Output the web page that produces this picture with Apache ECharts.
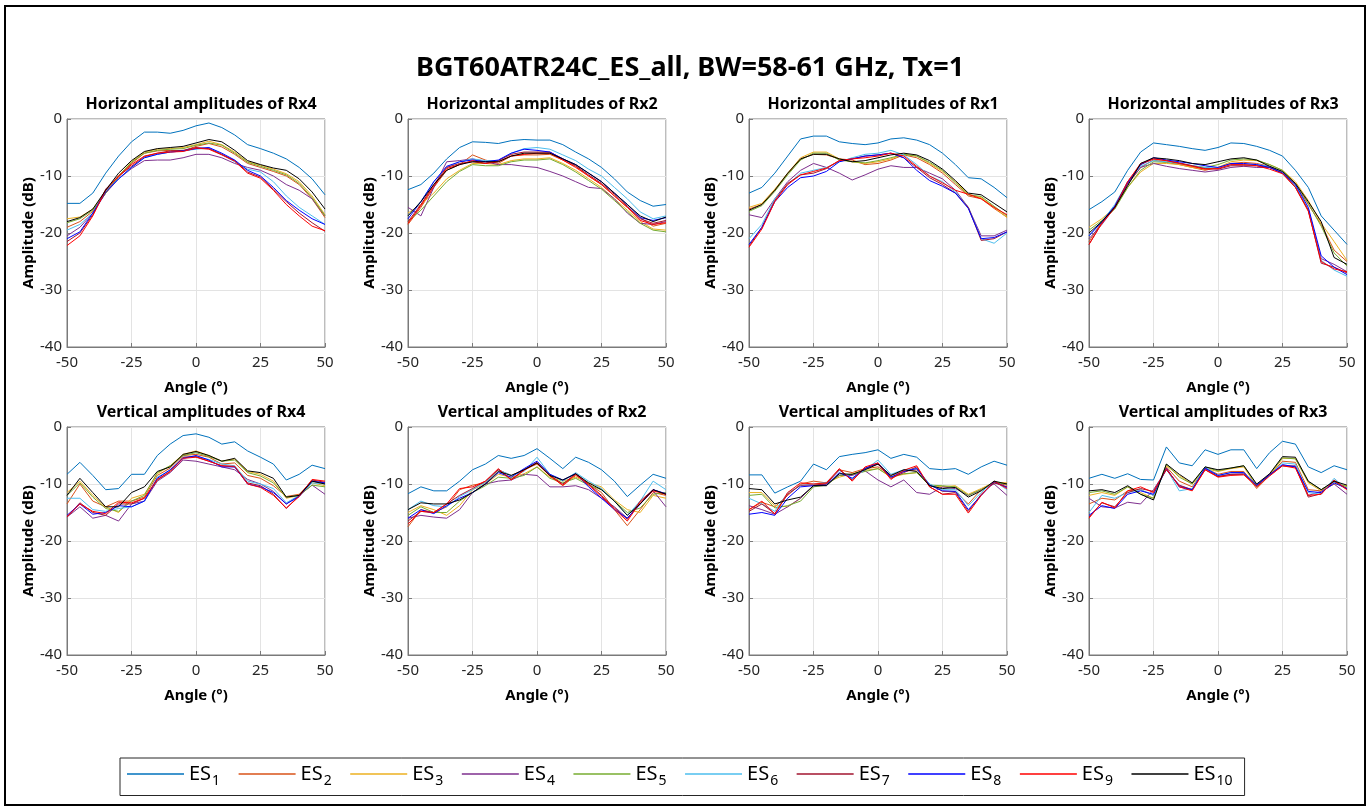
<!DOCTYPE html>
<html lang="en">
<head>
    <meta charset="utf-8">
    <title>BGT60ATR24C_ES_all</title>
    <script src="https://cdn.jsdelivr.net/npm/echarts@6/dist/echarts.min.js"></script>
    <style>
        html, body { margin: 0; padding: 0; background: #fff; }
        #chart { width: 1370px; height: 810px; }
    </style>
</head>
<body>
    <div id="chart"></div>
    <script type="text/javascript">
        // angle axis (deg)
        var angles = [-50, -45, -40, -35, -30, -25, -20, -15, -10, -5, 0, 5, 10, 15, 20, 25, 30, 35, 40, 45, 50];
        var esNames = ["ES1", "ES2", "ES3", "ES4", "ES5", "ES6", "ES7", "ES8", "ES9", "ES10"];
        var COLORS = ["#0072BD", "#D95319", "#EDB120", "#7E2F8E", "#77AC30", "#4DBEEE", "#A2142F", "#0000FF", "#FF0000", "#000000"];
        var panelTitles = [
            "Horizontal amplitudes of Rx4", "Horizontal amplitudes of Rx2", "Horizontal amplitudes of Rx1", "Horizontal amplitudes of Rx3",
            "Vertical amplitudes of Rx4", "Vertical amplitudes of Rx2", "Vertical amplitudes of Rx1", "Vertical amplitudes of Rx3"
        ];
        var xTicks = [-50, -25, 0, 25, 50];
        var yTicks = [-40, -30, -20, -10, 0];

        // amplitude (dB), one row per ES1..ES10
        var H_RX4 = [
            [-14.8, -14.8, -13, -9.5, -6.5, -4, -2.3, -2.3, -2.5, -2, -1.2, -0.7, -1.5, -2.8, -4.5, -5.2, -6, -7, -8.5, -10.5, -13.3],
            [-19, -18, -16.2, -13, -10.2, -7.8, -6, -5.6, -5.5, -5.6, -4.8, -4.3, -4.9, -6.2, -7.8, -8.5, -9.2, -10, -11.5, -14, -17.3],
            [-17.5, -17.2, -15.8, -12.8, -10, -7.5, -5.8, -5.3, -5.2, -5, -4.5, -3.9, -4.5, -5.8, -7.5, -8.1, -8.8, -9.6, -11, -13.5, -16.8],
            [-20.5, -19, -16.5, -13, -10.5, -8.7, -7.3, -7.2, -7.2, -6.8, -6.2, -6.2, -6.8, -7.8, -8.5, -9, -10, -11.5, -12.5, -14, -17],
            [-18.2, -17.5, -16, -13, -10, -7.6, -6, -5.5, -5.3, -5.2, -4.6, -4.2, -4.6, -6, -7.6, -8.3, -9, -9.8, -11.3, -13.8, -17],
            [-19.5, -18.5, -16.5, -12.5, -10.5, -8.5, -6.8, -6.2, -5.8, -5.6, -5.3, -5.1, -6.2, -7.5, -8.8, -9.3, -11, -13.5, -15.5, -17, -18.5],
            [-21.5, -20, -16.8, -12.3, -10, -8.3, -6.6, -6, -5.6, -5.5, -5, -5.2, -6.2, -7.3, -9.3, -10.2, -12.3, -14.5, -16.5, -18.2, -19.7],
            [-21, -19.8, -16.5, -12.8, -10.5, -8.5, -6.8, -6.2, -5.8, -5.6, -5.2, -5, -6, -7.2, -9, -10, -12, -14.3, -16, -17.5, -18.5],
            [-22.2, -20.5, -17, -12.5, -10, -8, -6.5, -6, -5.8, -5.7, -5.1, -5.3, -6.3, -7.4, -9.5, -10.4, -12.5, -15, -17, -18.8, -19.6],
            [-18, -17.3, -15.8, -12.5, -9.5, -7.3, -5.7, -5.2, -5, -4.8, -4.2, -3.6, -4, -5.5, -7.3, -8, -8.6, -9, -10.5, -12.8, -15.8]
        ];
        var H_RX2 = [
            [-12.4, -11.5, -9.5, -7, -5, -4, -4.1, -4.3, -3.8, -3.6, -3.7, -3.7, -4.5, -5.8, -7, -8.5, -10.5, -12.8, -14.3, -15.3, -15],
            [-18.5, -15.5, -12, -9, -8, -6.3, -7.2, -7.8, -6.5, -6.3, -6.3, -6.2, -7.2, -8.3, -10, -11.5, -13.5, -15.5, -17.3, -18.8, -18.3],
            [-16.5, -15, -13, -10.5, -9, -7.8, -7.8, -8, -7.3, -7, -7, -6.8, -7.8, -9, -10.5, -12, -14, -16, -18, -19.3, -19.5],
            [-15.5, -17, -12, -7.5, -7.3, -7, -7.5, -8, -8, -8.3, -8.5, -9.2, -10, -11, -12, -12.2, -14, -16.5, -18.3, -18.5, -18],
            [-18, -16, -13.5, -11, -9.2, -8, -8.2, -8.2, -7.5, -7.2, -7.2, -7, -8, -9.3, -10.8, -12.3, -14.3, -16.3, -18.3, -19.5, -19.8],
            [-17, -14.5, -11, -8.5, -7.5, -7, -7.3, -7.3, -6, -5.2, -5, -5.3, -6.3, -7.3, -8.8, -10, -12, -14, -16.3, -17.5, -17],
            [-18, -15, -11.5, -8.5, -7.8, -7.5, -7.8, -7.3, -6.2, -5.8, -5.8, -5.8, -7, -8.2, -9.8, -11.3, -13.2, -15.3, -17.5, -18.3, -17.8],
            [-17.5, -14.5, -11, -8.3, -7.5, -7.2, -7.5, -7.2, -6, -5.3, -5.5, -5.8, -7, -8, -9.5, -11, -13, -15, -17.3, -17.8, -17.3],
            [-18.3, -15.2, -11.8, -8.7, -8, -7.3, -7.8, -7.5, -6.5, -6.2, -6, -6, -7.2, -8.5, -10, -11.5, -13.5, -15.5, -17.8, -18.5, -18.2],
            [-17, -14.5, -11.5, -9, -8, -7.5, -7.5, -7.5, -6.5, -6, -6, -6, -7, -8, -9.5, -11, -13, -15, -17, -18, -17.2]
        ];
        var H_RX1 = [
            [-13, -12, -9.5, -6.5, -3.5, -3, -3, -4, -4.3, -4.5, -4.2, -3.5, -3.3, -3.7, -4.5, -6, -8, -10.3, -10.5, -12, -13.8],
            [-15.8, -15, -12.5, -9.6, -7, -6.2, -6.3, -7, -7.2, -8, -7.8, -7.2, -6.3, -6.8, -8, -9.5, -11.5, -13.5, -14, -15.7, -17.2],
            [-15.5, -14.8, -12.3, -9.5, -6.8, -5.8, -5.8, -7, -7.5, -7.8, -7.5, -7, -6.2, -6.5, -7.8, -9.2, -11, -13.2, -13.8, -15.5, -17.3],
            [-16.8, -17.3, -14, -11, -9, -7.8, -8.5, -9.5, -10.7, -9.8, -8.8, -8.2, -8.5, -8.5, -9.5, -10.5, -12.5, -15.5, -20.5, -20.5, -19.5],
            [-16.2, -15.2, -12.7, -9.8, -7.2, -6, -6, -7.2, -7.5, -7.7, -7.3, -6.8, -6.2, -6.5, -7.6, -9, -11.2, -13.3, -13.6, -15.3, -17],
            [-21, -18.5, -14, -11.5, -9.5, -9, -8.5, -7.5, -6.8, -6.2, -6, -5.5, -6.3, -8, -10, -11, -12.8, -15.5, -21, -21.8, -20],
            [-22.3, -19, -14.3, -11.3, -9.8, -9.5, -8.7, -7.3, -7, -6.5, -6.3, -6, -6.8, -8.5, -10.3, -11.5, -13, -15.5, -21.3, -21, -19.8],
            [-22, -19, -14.5, -12, -10.3, -10, -9.2, -7.5, -7, -6.5, -6.3, -6, -6.8, -9, -10.8, -11.8, -13, -15.7, -21, -20.8, -19.8],
            [-22.5, -19.3, -14.5, -11.5, -9.8, -9.2, -8.6, -7.3, -7, -6.8, -6.5, -6, -6.5, -8.3, -10, -11.2, -12.5, -13.2, -14, -15.5, -16.8],
            [-16, -15, -12.5, -9.5, -7, -6.2, -6.2, -7, -7.5, -7.3, -6.8, -6.3, -6, -6.3, -7.3, -8.8, -10.8, -13, -13.3, -14.8, -16.3]
        ];
        var H_RX3 = [
            [-15.9, -14.5, -12.8, -9, -5.8, -4.2, -4.5, -4.8, -5.2, -5.5, -5, -4.2, -4.3, -4.8, -5.5, -6.5, -9, -12, -17, -19.5, -22],
            [-21.5, -18, -15.5, -11.5, -8.5, -7.2, -7.6, -8, -8.5, -9, -8.5, -7.8, -7.6, -7.8, -8.3, -9.3, -11.5, -15, -18.5, -23, -25],
            [-19, -17.5, -15.5, -12, -9.3, -7.8, -7.8, -8, -8.5, -8.8, -8.5, -7.5, -7.2, -7.3, -8, -9, -11, -14.3, -18.3, -21.5, -24.8],
            [-21, -18.5, -15.5, -11.3, -8.5, -7.8, -8.3, -8.7, -9, -9.3, -9, -8.5, -8.3, -8.5, -8.5, -9.3, -11.8, -16, -24.5, -25.5, -26.8],
            [-19.5, -17.8, -15.8, -12, -9, -7.5, -7.6, -7.8, -8.2, -8.5, -8, -7.2, -7, -7.2, -8, -9, -11.3, -14.8, -18.8, -23.5, -25.8],
            [-20.5, -18, -15, -11, -8.3, -7.3, -7.5, -7.8, -8.2, -8.5, -8.6, -8, -8, -8, -8.3, -9.3, -11.8, -15.8, -24.8, -26.5, -27.6],
            [-22, -18.2, -15.3, -11, -8, -7, -7.3, -7.7, -8.2, -8.7, -8.8, -8.2, -8.2, -8.2, -8.5, -9.5, -12, -16, -25.3, -26, -27],
            [-20.5, -18, -15.3, -11.2, -8, -6.8, -7.2, -7.5, -7.8, -8.2, -8.5, -7.8, -7.8, -8, -8.5, -9.5, -11.5, -15.5, -24, -26, -27.3],
            [-22, -18.3, -15.6, -11, -7.8, -7, -7.3, -7.8, -8.3, -8.8, -8.7, -8, -8, -8.2, -8.8, -9.6, -12, -16.2, -25, -26.3, -26.8],
            [-20, -18, -15.5, -11.7, -7.8, -6.8, -7, -7.3, -7.8, -8, -7.5, -7, -6.8, -7.2, -8.3, -9.2, -11.3, -14.5, -18, -24.3, -25.5]
        ];
        var V_RX4 = [
            [-8.3, -6.2, -8.5, -11, -10.8, -8.3, -8.3, -5, -3, -1.5, -1.2, -1.8, -3, -2.6, -4.2, -5.3, -6.5, -9.3, -8.3, -6.7, -7.3],
            [-13.5, -10, -13, -14, -13, -13, -12.3, -8.5, -7.2, -5, -4.8, -5.3, -6.5, -6.3, -8.5, -9, -10.3, -12.2, -11.8, -9.5, -10],
            [-11.5, -9.5, -12, -14, -15, -12.5, -11.8, -8.2, -6.8, -4.8, -4.2, -5, -6, -5.6, -7.8, -8.3, -9.5, -12.5, -12, -9.8, -10.3],
            [-15.8, -14, -16, -15.5, -16.5, -13.5, -13, -9.5, -8, -5.8, -6, -6.5, -7, -7.5, -9.2, -10, -11.3, -13.5, -12, -10.2, -11.8],
            [-12, -9.8, -12.3, -14.3, -14.8, -13, -12, -8, -6.8, -5, -4.5, -5.2, -6, -5.8, -8, -8.6, -9.8, -12.3, -12, -10.2, -10.5],
            [-12.5, -12.5, -14.5, -14.8, -14.3, -14, -13, -8.8, -7.6, -5.3, -5.2, -5.7, -6.5, -6.8, -9.5, -10, -10.8, -13.3, -12, -9.8, -10],
            [-15.8, -13.3, -15, -15.5, -13.5, -13.5, -12.5, -9.3, -7.8, -5.3, -5.2, -6, -6.8, -7, -9.8, -10.3, -11.8, -14.3, -12, -9.3, -9.7],
            [-15.5, -13.5, -15.3, -15, -13.8, -14, -13, -9, -7.5, -5.5, -5, -5.8, -7, -7, -10, -10.5, -11.5, -13.5, -12.2, -9.5, -9.8],
            [-15.7, -13.5, -14.8, -15.2, -13.2, -13.3, -12.5, -9.2, -7.8, -5.5, -5.3, -6, -6.8, -6.9, -10, -10.6, -12, -14.2, -12.2, -9.2, -9.5],
            [-12, -9, -11.5, -14, -14, -11.5, -10.5, -7.8, -7, -4.8, -4.3, -5, -6, -5.5, -7.7, -8, -9, -12.3, -12, -9.5, -10]
        ];
        var V_RX2 = [
            [-11.7, -10.5, -11.2, -11.2, -9.5, -7.5, -6.5, -5, -5.5, -5, -3.8, -5.5, -7.3, -5.3, -6.2, -7.5, -9.5, -12.2, -10.2, -8.3, -9],
            [-17.5, -14.5, -15, -14, -11, -10.2, -9.8, -7.5, -8.5, -7.5, -6.5, -8.5, -10.3, -8.5, -10, -11.5, -14.5, -17.3, -14.5, -11.5, -12],
            [-15, -13.8, -14.5, -15.5, -13.8, -11, -10, -8.3, -8.8, -8.2, -7, -8.8, -9.5, -8.8, -9.8, -10.5, -12.8, -14.5, -15, -12, -12.5],
            [-16, -15.5, -15.8, -16, -14.5, -11.5, -10, -9.5, -9.3, -8.3, -8.5, -10.5, -10.5, -10.3, -11, -12.5, -14, -16, -13.5, -11.2, -14],
            [-15.5, -14, -15, -15, -13, -11.5, -10.3, -8.8, -9, -8.5, -7, -9, -9.8, -9, -10.2, -11, -13, -15, -14.2, -11.8, -11.5],
            [-14.5, -13, -13.8, -14, -12.2, -11, -9.7, -7.5, -8.5, -7.8, -5.3, -8.3, -9.5, -8, -9.5, -10.8, -13, -15.5, -13, -9.5, -11],
            [-16.5, -14.8, -15, -13.5, -12, -10.8, -9.5, -7.5, -9.2, -7.5, -6.2, -8.5, -10, -8.2, -10, -12, -14.2, -16.2, -13, -11, -11.8],
            [-16, -14.5, -15.2, -13.8, -12.5, -11.5, -10, -8, -8.8, -7.3, -6, -8.3, -9.3, -8.2, -10.5, -12.5, -14.5, -16, -13.5, -11, -11.7],
            [-17, -14.8, -15, -13.5, -10.8, -10.5, -9.5, -7.3, -9.3, -7.6, -6.3, -8.6, -10.2, -8.3, -10.2, -12.2, -14.4, -16.5, -13.2, -11.2, -11.8],
            [-14.5, -13.3, -13.5, -13.5, -12.8, -11.5, -10, -7.8, -8.5, -7.5, -6.3, -8.5, -9.3, -8.2, -9.8, -11, -13, -15.5, -13.5, -11, -11.8]
        ];
        var V_RX1 = [
            [-8.4, -8.4, -11.6, -10.5, -9.5, -6.5, -7.5, -5.2, -4.8, -4.5, -4, -5.5, -4.8, -5.3, -7.3, -7.5, -7.3, -8.3, -7, -6, -6.7],
            [-14.5, -13.2, -14, -12, -10, -9.5, -9.8, -7.5, -8, -7.3, -7, -8.5, -7.8, -7.5, -10, -11.3, -11.3, -13.5, -11, -9.8, -10.2],
            [-11.5, -11.5, -13.8, -14, -12.5, -10.3, -9.8, -8.8, -8.2, -7.6, -7.3, -8.8, -8.3, -8, -10.3, -10.5, -10.3, -11.8, -10.8, -9.7, -9.8],
            [-13.8, -14.5, -15.3, -14, -12.5, -10.3, -10, -8.5, -8.5, -7.7, -9.3, -10.5, -9.3, -11.5, -11.8, -10.5, -10.8, -12, -11, -10, -12],
            [-12, -11.8, -14.2, -13.8, -13, -10.5, -10.2, -8.5, -8.3, -7.8, -7.3, -8.7, -8.2, -8, -10.2, -10.3, -10.5, -12, -11, -9.8, -10],
            [-12.5, -13.5, -14.8, -11.5, -10.3, -10, -9.7, -7.6, -9, -7.5, -5.8, -8.3, -7.5, -7.3, -10, -11, -11, -13.8, -11.5, -9.5, -11],
            [-14.8, -13.5, -15.2, -11.8, -10.2, -10.2, -10, -7.5, -9.3, -7.2, -6.5, -9, -8, -7, -10.5, -11.8, -11.5, -14.8, -11.8, -9.8, -10.5],
            [-15.3, -15, -15.5, -12.5, -10.5, -10.3, -10.2, -8, -9, -7.3, -6.3, -8.8, -7.8, -7.3, -10.2, -11.2, -11.3, -14.5, -12, -9.6, -10.6],
            [-14.5, -13, -15.3, -11.5, -9.8, -10, -9.8, -7.3, -9.5, -7, -6.3, -9.2, -7.6, -6.8, -10.5, -11.8, -11.8, -15.1, -12, -9.5, -10.8],
            [-10.8, -11, -13.5, -12.8, -12.3, -10.3, -10.3, -8.2, -8.3, -7.5, -6.5, -8.5, -7.5, -7.8, -10.3, -10.8, -10.6, -12.3, -11.2, -9.5, -10]
        ];
        var V_RX3 = [
            [-9, -8.3, -9, -8.2, -9.2, -9.3, -3.5, -6.3, -6.8, -4, -4.8, -4, -4, -7.3, -4.5, -2.5, -3, -7, -8, -6.8, -7.5],
            [-13.5, -12.5, -12.8, -11.2, -11, -12, -7, -9.5, -10.5, -7.2, -8.3, -7.8, -7.8, -10.8, -8.5, -6, -6.2, -11, -11.2, -9.5, -11],
            [-12, -11.5, -12, -10.5, -11.5, -12.5, -6.8, -8.5, -10, -7.3, -7.8, -7.3, -7, -10.5, -8.5, -5.5, -5.5, -9.8, -11.2, -10, -10.3],
            [-12.5, -14, -14.2, -13.2, -13.5, -11, -7.5, -10.2, -11, -7.3, -8.7, -8.3, -8.2, -10.3, -8.5, -6.8, -6.8, -12, -11.3, -10, -11.8],
            [-11.5, -11.2, -11.8, -10.5, -11.8, -12.5, -6.5, -8.8, -10, -7, -7.7, -7.2, -6.8, -10.2, -8.3, -5.4, -5.6, -9.6, -11, -9.6, -10.5],
            [-15, -12, -12.5, -11.5, -11, -12, -7.3, -11.2, -10.8, -7, -8.5, -8, -8, -10.5, -8.5, -6.3, -6.5, -11.5, -11.8, -9, -11],
            [-15.8, -13.3, -14, -11.5, -10.8, -11.3, -7.5, -10.3, -11, -7.5, -8.7, -8.3, -8.3, -10.3, -8.3, -6.8, -7, -12.3, -11.7, -9.5, -10.8],
            [-15.5, -13.8, -14.3, -11.8, -11.2, -11.8, -7.2, -10.5, -11, -7.2, -8.5, -8, -8, -10.2, -8.4, -6.6, -7, -11.3, -11.5, -9.8, -10.8],
            [-16, -13.2, -14.2, -11.2, -10.5, -11.5, -7.3, -10.5, -11.2, -7.5, -8.8, -8.5, -8.4, -10.5, -8.6, -6.8, -7.2, -12, -11.8, -9.3, -11],
            [-11.2, -11, -11.5, -10.3, -11.8, -12.8, -6.5, -8.3, -9.8, -7, -7.5, -7.2, -6.8, -10, -8.2, -5.2, -5.3, -9.5, -11, -9.5, -10.2]
        ];
        var panels = [H_RX4, H_RX2, H_RX1, H_RX3, V_RX4, V_RX2, V_RX1, V_RX3];

        //画布布局
        var gridLefts = [67, 408, 749, 1089];
        var gridTops = [119, 427];
        var gridW = 258;
        var gridH = 228;
        var boxColor = "#7a7a7a";
        var fontName = "Noto Sans";

        var grids = [], xAxes = [], yAxes = [], titles = [], series = [];
        titles.push({
            text: "BGT60ATR24C_ES_all, BW=58-61 GHz, Tx=1",
            left: 685, top: 50, textAlign: "center",
            textStyle: { fontFamily: fontName, fontSize: 27, fontWeight: "bold", color: "#000" }
        });
        panels.forEach(function (panel, p) {
            var col = p % 4, row = Math.floor(p / 4);
            grids.push({
                left: gridLefts[col], top: gridTops[row], width: gridW, height: gridH,
                show: true, borderColor: boxColor, borderWidth: 1
            });
            titles.push({
                text: panelTitles[p],
                left: gridLefts[col] + gridW / 2, top: gridTops[row] - 28, textAlign: "center",
                textStyle: { fontFamily: fontName, fontSize: 16, fontWeight: "bold", color: "#000" }
            });
            xAxes.push({
                type: "value", gridIndex: p,
                min: xTicks[0], max: xTicks[xTicks.length - 1], interval: 25,
                name: "Angle (°)", nameLocation: "middle", nameGap: 33,
                nameTextStyle: { fontFamily: fontName, fontSize: 15, fontWeight: "bold", color: "#000" },
                axisLine: { show: true, onZero: false, lineStyle: { color: boxColor } },
                axisTick: { show: true, inside: true, length: 4, lineStyle: { color: boxColor } },
                axisLabel: { fontFamily: fontName, fontSize: 15, color: "#262626", margin: 8 },
                splitLine: { show: true, lineStyle: { color: "#e3e3e3" } }
            });
            yAxes.push({
                type: "value", gridIndex: p,
                min: yTicks[0], max: yTicks[yTicks.length - 1], interval: 10,
                name: "Amplitude (dB)", nameLocation: "middle", nameGap: 29,
                nameTextStyle: { fontFamily: fontName, fontSize: 15, fontWeight: "bold", color: "#000" },
                axisLine: { show: true, onZero: false, lineStyle: { color: boxColor } },
                axisTick: { show: true, inside: true, length: 4, lineStyle: { color: boxColor } },
                axisLabel: { fontFamily: fontName, fontSize: 15, color: "#262626", margin: 5 },
                splitLine: { show: true, lineStyle: { color: "#e3e3e3" } }
            });
            panel.forEach(function (vals, k) {
                series.push({
                    type: "line", name: esNames[k],
                    xAxisIndex: p, yAxisIndex: p,
                    symbol: "none", silent: true,
                    lineStyle: { width: 1, color: COLORS[k] },
                    itemStyle: { color: COLORS[k] },
                    data: angles.map(function (a, j) { return [a, vals[j]]; })
                });
            });
        });

        var option = {
            animation: false,
            backgroundColor: "#fff",
            textStyle: { fontFamily: fontName },
            title: titles,
            grid: grids,
            xAxis: xAxes,
            yAxis: yAxes,
            legend: {
                data: esNames,
                left: 120, top: 758,
                icon: "rect",
                itemWidth: 57, itemHeight: 1.5, itemGap: 18.5,
                borderColor: "#262626", borderWidth: 1,
                padding: [6, 12, 7, 7],
                formatter: function (name) { return name.slice(0, 2) + "{s|" + name.slice(2) + "}"; },
                textStyle: {
                    fontFamily: fontName, fontSize: 20, color: "#000",
                    rich: { s: { fontFamily: fontName, fontSize: 14, color: "#000", padding: [15, 0, 0, 1] } }
                }
            },
            graphic: [{
                type: "rect", silent: true,
                shape: { x: 5, y: 6, width: 1360, height: 799 },
                style: { fill: "none", stroke: "#000", lineWidth: 2 }
            }],
            series: series
        };
        var mychart = echarts.init(document.getElementById("chart"));
        mychart.setOption(option);
    </script>
</body>
</html>
